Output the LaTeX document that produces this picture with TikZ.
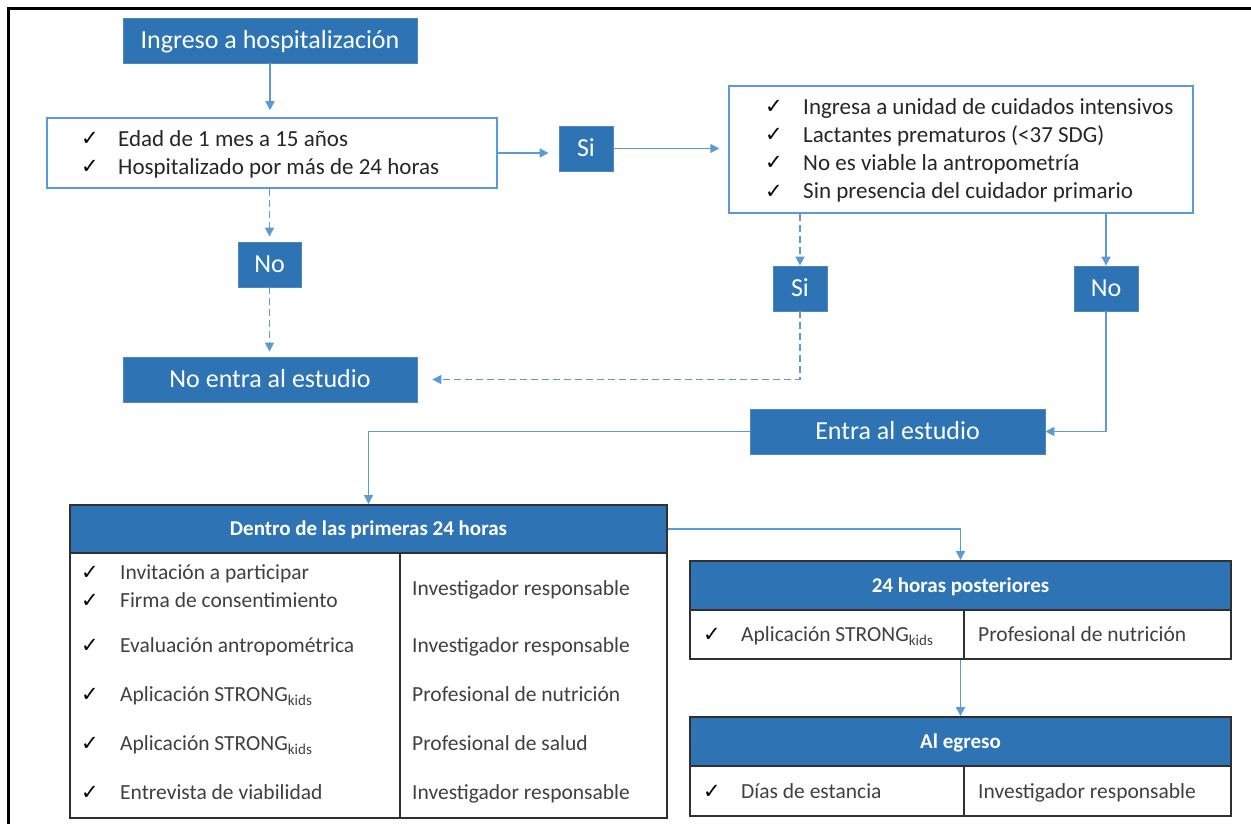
\documentclass[tikz,border=0pt]{standalone}
\usepackage{fontspec}
\setmainfont{Carlito}
\newfontfamily\checkfont{DejaVu Sans}
\usetikzlibrary{arrows.meta}
\definecolor{boxblue}{HTML}{2E74B5}
\definecolor{linkblue}{HTML}{5B9BD5}
\definecolor{textdark}{HTML}{262626}
\definecolor{cellgray}{HTML}{404040}
\definecolor{tabline}{HTML}{303030}
\newcommand{\tick}{{\checkfont ✓}}
\begin{document}
\begin{tikzpicture}[x=1pt,y=-1pt,
  bluebox/.style={fill=boxblue, draw=boxblue!85!white, line width=0.8pt, text=white,
    font=\fontsize{26}{30}\selectfont, inner sep=0pt, text height=16.6pt, text depth=0pt},
  critbox/.style={draw=linkblue, line width=1.5pt, fill=white, inner sep=0pt},
  crittext/.style={anchor=west, text=textdark, font=\fontsize{23}{27}\selectfont,
    inner sep=0pt, text height=14.7pt, text depth=0pt},
  chk/.style={anchor=center, text=black, font=\fontsize{21}{24}\selectfont, inner sep=0pt,
    text height=13pt, text depth=0pt},
  link/.style={draw=linkblue, line width=1.5pt, -{Triangle[length=9pt,width=9pt]}},
  dashlink/.style={link, dash pattern=on 7pt off 4pt},
  thead/.style={fill=boxblue, draw=tabline, line width=2pt, text=white,
    font=\bfseries\fontsize{21}{25}\selectfont, inner sep=0pt, text height=13.4pt, text depth=0pt},
  tbody/.style={draw=tabline, line width=2pt, fill=white, inner sep=0pt},
  celltext/.style={anchor=west, text=cellgray, font=\fontsize{21.5}{25}\selectfont,
    inner sep=0pt, text height=13.8pt, text depth=0pt}]
\useasboundingbox (0,0) rectangle (1251,824);
\fill[white] (0,0) rectangle (1251,824);
% outer frame
\draw[line width=3pt] (8,830) -- (8,9) -- (1260,9);

% first stage
\node[bluebox, minimum width=294pt, minimum height=45pt] (ingreso) at (270,40.5) {Ingreso a hospitalización};
\node[critbox, minimum width=450pt, minimum height=70pt] (crit1) at (272,153) {};
\node[chk] (c1a) at (90,139) {\tick};
\node[crittext] (t1a) at (118,139) {Edad de 1 mes a 15 años};
\node[chk] (c1b) at (90,167) {\tick};
\node[crittext] (t1b) at (118,167) {Hospitalizado por más de 24 horas};

\node[bluebox, minimum width=54pt, minimum height=45pt] (si1) at (586,148.5) {Si};
\node[bluebox, minimum width=63pt, minimum height=45pt] (no1) at (269.5,264.5) {No};
\node[bluebox, minimum width=294pt, minimum height=45pt] (noentra) at (270,379.5) {No entra al estudio};

% exclusion criteria
\node[critbox, minimum width=464pt, minimum height=127pt] (crit2) at (961,149.5) {};
\node[chk] (c2a) at (774,107) {\tick};
\node[crittext] (t2a) at (803,107) {Ingresa a unidad de cuidados intensivos};
\node[chk] (c2b) at (774,135.5) {\tick};
\node[crittext] (t2b) at (803,135.5) {Lactantes prematuros (<37 SDG)};
\node[chk] (c2c) at (774,163.5) {\tick};
\node[crittext] (t2c) at (803,163.5) {No es viable la antropometría};
\node[chk] (c2d) at (774,191.5) {\tick};
\node[crittext] (t2d) at (803,191.5) {Sin presencia del cuidador primario};

\node[bluebox, minimum width=54pt, minimum height=45pt] (si2) at (800,288.5) {Si};
\node[bluebox, minimum width=64pt, minimum height=45pt] (no2) at (1106,288.5) {No};
\node[bluebox, minimum width=295pt, minimum height=45pt] (entra) at (897.5,431.5) {Entra al estudio};

% table: first 24 hours
\node[thead, minimum width=597pt, minimum height=48pt] (t1head) at (368.5,529) {Dentro de las primeras 24 horas};
\node[tbody, minimum width=597pt, minimum height=265pt] (t1body) at (368.5,685.5) {};
\draw[tabline, line width=2pt] (t1head.south -| 400,0) -- (t1body.south -| 400,0);
\node[chk] (r1c1) at (90,573) {\tick};
\node[celltext] (r1a) at (120,573) {Invitación a participar};
\node[chk] (r1c2) at (90,601) {\tick};
\node[celltext] (r1b) at (120,601) {Firma de consentimiento};
\node[celltext] (r1r) at (412,589) {Investigador responsable};
\node[chk] (r2c) at (90,646) {\tick};
\node[celltext] (r2a) at (120,646) {Evaluación antropométrica};
\node[celltext] (r2r) at (412,646) {Investigador responsable};
\node[chk] (r3c) at (90,695) {\tick};
\node[celltext] (r3a) at (120,695) {Aplicación STRONG\textsubscript{kids}};
\node[celltext] (r3r) at (412,695) {Profesional de nutrición};
\node[chk] (r4c) at (90,744) {\tick};
\node[celltext] (r4a) at (120,744) {Aplicación STRONG\textsubscript{kids}};
\node[celltext] (r4r) at (412,744) {Profesional de salud};
\node[chk] (r5c) at (90,793) {\tick};
\node[celltext] (r5a) at (120,793) {Entrevista de viabilidad};
\node[celltext] (r5r) at (412,793) {Investigador responsable};

% table: following 24 hours
\node[thead, minimum width=541pt, minimum height=49pt] (t2head) at (960.5,585.5) {24 horas posteriores};
\node[tbody, minimum width=541pt, minimum height=49pt] (t2body) at (960.5,634.5) {};
\draw[tabline, line width=2pt] (t2body.north -| 964,0) -- (t2body.south -| 964,0);
\node[chk] (s1c) at (712,635) {\tick};
\node[celltext] (s1a) at (741,635) {Aplicación STRONG\textsubscript{kids}};
\node[celltext] (s1r) at (978,635) {Profesional de nutrición};

% table: discharge
\node[thead, minimum width=541pt, minimum height=49pt] (t3head) at (960.5,741.5) {Al egreso};
\node[tbody, minimum width=541pt, minimum height=50pt] (t3body) at (960.5,791) {};
\draw[tabline, line width=2pt] (t3body.north -| 964,0) -- (t3body.south -| 964,0);
\node[chk] (e1c) at (712,792) {\tick};
\node[celltext] (e1a) at (741,792) {Días de estancia};
\node[celltext] (e1r) at (978,792) {Investigador responsable};

% connectors
\draw[link, shorten >=7pt] (ingreso.south) -- (ingreso.south |- crit1.north);
\draw[link, shorten >=10pt] (crit1.east) -- (crit1.east -| si1.west);
\draw[link, shorten >=9pt] (si1.east) -- (si1.east -| crit2.west);
\draw[dashlink, shorten >=5pt] (crit1.south -| no1.north) -- (no1.north);
\draw[dashlink, shorten >=5pt] (no1.south) -- (no1.south |- noentra.north);
\draw[dashlink] (si2.north |- crit2.south) -- (si2.north);
\draw[link] (no2.north |- crit2.south) -- (no2.north);
\draw[dashlink, shorten >=15pt] (si2.south) |- (noentra.east);
\draw[link] (no2.south) |- (entra.east);
\draw[link] (entra.west) -| (t1head.north);
\draw[link] (t1head.east) -| (t2head.north);
\draw[link] (t3head.north |- t2body.south) -- (t3head.north);
\end{tikzpicture}
\end{document}
